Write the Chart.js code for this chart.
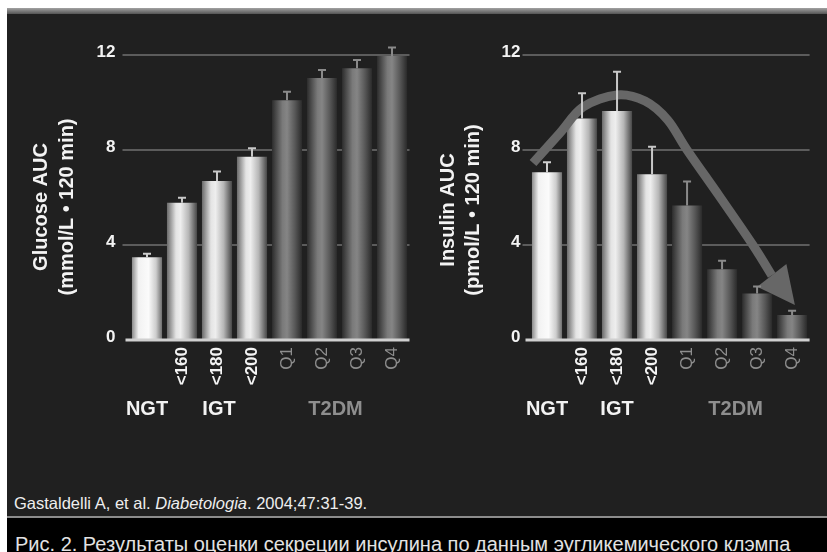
<!DOCTYPE html>
<html>
<head>
<meta charset="utf-8">
<script src="https://cdn.jsdelivr.net/npm/chart.js@4.4.1/dist/chart.umd.min.js"></script>
<style>
  html, body { margin: 0; padding: 0; }
  body {
    width: 827px; height: 552px; overflow: hidden; position: relative;
    background: #202020;
    font-family: "Liberation Sans", Arial, sans-serif;
  }
  #topWhite { position: absolute; left: 0; top: 0; width: 827px; height: 8px; background: #fff; }
  #topBand { position: absolute; left: 7px; top: 8px; width: 820px; height: 6px; background: linear-gradient(#a2a2a2, #555); }
  #leftWhite { position: absolute; left: 0; top: 0; width: 7px; height: 552px; background: #fff; }
  #rule { position: absolute; left: 7px; top: 516px; width: 820px; height: 2px; background: #8c8c8c; }
  #footer { position: absolute; left: 7px; top: 518px; width: 820px; height: 34px; background: #000; }
  #cite { position: absolute; left: 14px; top: 495px; font-size: 16.5px; line-height: 16px; color: #eeeeee; white-space: nowrap; }
  #caption { position: absolute; left: 15px; top: 534px; font-size: 20px; line-height: 20px; color: #e2e2e2; white-space: nowrap; }
  #glucoseChart { position: absolute; left: 0; top: 0; }
  #insulinChart { position: absolute; left: 410px; top: 0; }
</style>
</head>
<body>
<div id="topWhite"></div>
<div id="topBand"></div>
<div id="leftWhite"></div>
<div id="rule"></div>
<div id="footer"></div>
<canvas id="glucoseChart" width="420" height="430"></canvas>
<canvas id="insulinChart" width="417" height="430"></canvas>
<div id="cite">Gastaldelli A, et al. <i>Diabetologia</i>. 2004;47:31-39.</div>
<div id="caption">Рис. 2. Результаты оценки секреции инсулина по данным эугликемического клэмпа</div>

<script>
// ---- data ----
const categories = ['', '<160', '<180', '<200', 'Q1', 'Q2', 'Q3', 'Q4'];
const groups = ['NGT', 'IGT', 'IGT', 'IGT', 'T2DM', 'T2DM', 'T2DM', 'T2DM'];
const groupNames = ['NGT', 'IGT', 'T2DM'];
const yTicks = [0, 4, 8, 12];

const glucoseAUC = [3.48, 5.78, 6.69, 7.72, 10.10, 11.03, 11.44, 11.96];
const glucoseErr = [0.15, 0.21, 0.40, 0.35, 0.35, 0.34, 0.35, 0.36];

const insulinAUC = [7.06, 9.33, 9.64, 6.98, 5.66, 2.98, 1.96, 1.05];
const insulinErr = [0.42, 1.06, 1.66, 1.16, 1.01, 0.36, 0.29, 0.18];

// trend arrow over the insulin bars, in (category index, value) units
const insulinTrendPath = [
  [-0.40, 7.45], [0.37, 8.72], [1.03, 9.81], [2.00, 10.32], [2.80, 10.06],
  [3.45, 9.26], [4.00, 8.00], [4.94, 6.02], [5.88, 4.00], [6.42, 2.72]
];
const insulinTrendTip = [7.08, 1.47];

// ---- styling ----
const FONT = '"Liberation Sans", Arial, sans-serif';
const WHITE = '#f3f3f3';
const GREY_TEXT = '#8e8e8e';
const BAR_FRACTION = 0.86;

const barStops = {
  NGT:  [[0, '#8c8c8c'], [0.22, '#f2f2f2'], [0.55, '#fbfbfb'], [0.8, '#cdcdcd'], [1, '#6e6e6e']],
  IGT:  [[0, '#6a6a6a'], [0.3, '#e4e4e4'], [0.45, '#eeeeee'], [0.72, '#b6b6b6'], [1, '#474747']],
  T2DM: [[0, '#2c2c2c'], [0.35, '#7a7a7a'], [0.5, '#858585'], [0.76, '#585858'], [1, '#2a2a2a']]
};
const errColor = { NGT: '#cfcfcf', IGT: '#c8c8c8', T2DM: '#8a8a8a' };

function barGradient(c) {
  const chart = c.chart;
  const xs = chart.scales && chart.scales.x;
  if (!xs || c.dataIndex === undefined || !xs.width) return '#888';
  const cx = xs.getPixelForValue(c.dataIndex);
  const half = xs.width / categories.length * BAR_FRACTION / 2;
  const g = chart.ctx.createLinearGradient(cx - half, 0, cx + half, 0);
  barStops[groups[c.dataIndex]].forEach(s => g.addColorStop(s[0], s[1]));
  return g;
}

// error bars and the zero baseline
const errorBarPlugin = {
  id: 'errorBars',
  afterDatasetsDraw(chart, args, opts) {
    const { ctx, chartArea } = chart;
    const xs = chart.scales.x, ys = chart.scales.y;
    const vals = chart.data.datasets[0].data;
    ctx.save();
    ctx.strokeStyle = '#d0d0d0';
    ctx.lineWidth = 3;
    ctx.beginPath();
    ctx.moveTo(chartArea.left - 4, ys.getPixelForValue(0));
    ctx.lineTo(chartArea.right, ys.getPixelForValue(0));
    ctx.stroke();
    opts.errors.forEach((e, i) => {
      const x = xs.getPixelForValue(i);
      const y0 = ys.getPixelForValue(vals[i]);
      const y1 = ys.getPixelForValue(vals[i] + e);
      ctx.strokeStyle = errColor[groups[i]];
      ctx.lineWidth = 2;
      ctx.beginPath();
      ctx.moveTo(x, y0);
      ctx.lineTo(x, y1);
      ctx.moveTo(x - 4, y1);
      ctx.lineTo(x + 4, y1);
      ctx.stroke();
    });
    ctx.restore();
  }
};

// smooth trend arrow drawn through the scales
const trendArrowPlugin = {
  id: 'trendArrow',
  afterDatasetsDraw(chart, args, opts) {
    if (!opts.path) return;
    const { ctx } = chart;
    const xs = chart.scales.x, ys = chart.scales.y;
    const pts = opts.path.map(p => [xs.getPixelForValue(p[0]), ys.getPixelForValue(p[1])]);
    const tip = [xs.getPixelForValue(opts.tip[0]), ys.getPixelForValue(opts.tip[1])];
    ctx.save();
    ctx.strokeStyle = opts.color;
    ctx.fillStyle = opts.color;
    ctx.lineWidth = opts.width;
    ctx.lineCap = 'butt';
    ctx.lineJoin = 'round';
    ctx.beginPath();
    ctx.moveTo(pts[0][0], pts[0][1]);
    for (let i = 0; i < pts.length - 1; i++) {
      const p0 = pts[i - 1] || pts[i], p1 = pts[i], p2 = pts[i + 1], p3 = pts[i + 2] || pts[i + 1];
      const c1 = [p1[0] + (p2[0] - p0[0]) / 6, p1[1] + (p2[1] - p0[1]) / 6];
      const c2 = [p2[0] - (p3[0] - p1[0]) / 6, p2[1] - (p3[1] - p1[1]) / 6];
      ctx.bezierCurveTo(c1[0], c1[1], c2[0], c2[1], p2[0], p2[1]);
    }
    ctx.stroke();
    const base = pts[pts.length - 1];
    const dx = tip[0] - base[0], dy = tip[1] - base[1];
    const len = Math.hypot(dx, dy);
    const nx = -dy / len, ny = dx / len;
    const hw = opts.headHalfWidth;
    ctx.beginPath();
    ctx.moveTo(tip[0], tip[1]);
    ctx.lineTo(base[0] + nx * hw, base[1] + ny * hw);
    ctx.lineTo(base[0] - nx * hw, base[1] - ny * hw);
    ctx.closePath();
    ctx.fill();
    ctx.restore();
  }
};

// rotated two-line axis title and the group names under the categories
const chartTextPlugin = {
  id: 'chartText',
  afterDraw(chart, args, opts) {
    const { ctx, chartArea } = chart;
    const xs = chart.scales.x;
    ctx.save();
    ctx.font = 'bold 20px ' + FONT;
    ctx.fillStyle = WHITE;
    ctx.textAlign = 'center';
    ctx.textBaseline = 'middle';
    opts.title.forEach((line, k) => {
      ctx.save();
      ctx.translate(opts.titleX[k], opts.titleCenterY);
      ctx.rotate(-Math.PI / 2);
      ctx.fillText(line, 0, 0);
      ctx.restore();
    });
    groupNames.forEach(name => {
      const idx = groups.map((g, i) => g === name ? i : -1).filter(i => i >= 0);
      const mid = idx.reduce((a, b) => a + b, 0) / idx.length;
      ctx.fillStyle = name === 'T2DM' ? GREY_TEXT : WHITE;
      ctx.fillText(name, xs.getPixelForValue(mid) + opts.groupShift[name], chartArea.bottom + 69);
    });
    ctx.restore();
  }
};

function makeChart(id, values, errors, cfg) {
  return new Chart(document.getElementById(id), {
    type: 'bar',
    data: {
      labels: categories,
      datasets: [{
        data: values,
        backgroundColor: barGradient,
        borderWidth: 0,
        barPercentage: BAR_FRACTION,
        categoryPercentage: 1
      }]
    },
    options: {
      responsive: false,
      animation: false,
      events: [],
      layout: { padding: { top: 40.75, right: cfg.rightPad, left: 0, bottom: 0 } },
      scales: {
        x: {
          afterFit: s => { s.height = 90; },
          grid: { display: false, drawTicks: false },
          border: { display: false },
          ticks: {
            autoSkip: false,
            minRotation: 90,
            maxRotation: 90,
            padding: 7,
            color: c => groups[c.index] === 'T2DM' ? GREY_TEXT : WHITE,
            font: c => groups[c.index] === 'T2DM'
              ? { family: FONT, size: 17 }
              : { family: FONT, size: 17, weight: 'bold' }
          }
        },
        y: {
          min: 0,
          max: 12.6,
          afterBuildTicks: s => { s.ticks = yTicks.map(v => ({ value: v })); },
          afterFit: s => { s.width = cfg.yWidth; },
          grid: {
            color: c => c.tick && c.tick.value === 0 ? 'rgba(0,0,0,0)' : '#5c5c5c',
            lineWidth: 2,
            tickLength: 7
          },
          border: { display: false },
          ticks: {
            color: WHITE,
            font: { family: FONT, size: 17, weight: 'bold' },
            padding: cfg.tickPad,
            labelOffset: -3
          }
        }
      },
      plugins: {
        legend: { display: false },
        tooltip: { enabled: false },
        trendArrow: cfg.arrow || {},
        errorBars: { errors: errors },
        chartText: {
          title: cfg.title,
          titleX: cfg.titleX,
          titleCenterY: cfg.titleCenterY,
          groupShift: cfg.groupShift
        }
      }
    },
    plugins: [trendArrowPlugin, errorBarPlugin, chartTextPlugin]
  });
}

makeChart('glucoseChart', glucoseAUC, glucoseErr, {
  yWidth: 129.5, rightPad: 9.4, tickPad: 7,
  title: ['Glucose AUC', '(mmol/L \u2022 120 min)'],
  titleX: [41, 67.5], titleCenterY: 207,
  groupShift: { NGT: 0, IGT: 2, T2DM: -4 }
});

makeChart('insulinChart', insulinAUC, insulinErr, {
  yWidth: 119.5, rightPad: 17.4, tickPad: 2,
  title: ['Insulin AUC', '(pmol/L \u2022 120 min)'],
  titleX: [38.5, 63.5], titleCenterY: 210,
  groupShift: { NGT: 0, IGT: 0, T2DM: -4 },
  arrow: { path: insulinTrendPath, tip: insulinTrendTip, color: '#676767', width: 9, headHalfWidth: 18.5 }
});
</script>
</body>
</html>
